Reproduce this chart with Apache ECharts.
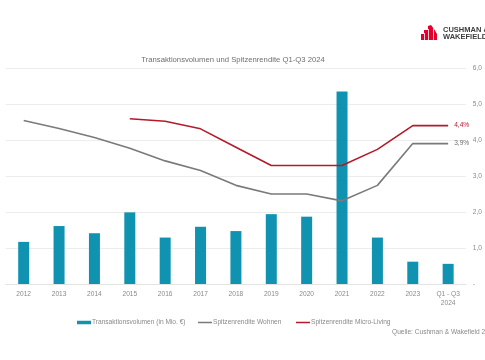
<!DOCTYPE html>
<html><head><meta charset="utf-8">
<script src="https://cdn.jsdelivr.net/npm/echarts@6/dist/echarts.min.js"></script>
<style>html,body{margin:0;padding:0;background:#fff}#c{width:485px;height:360px}</style>
</head><body><div id="c"></div>
<script>
const categories = ['2012','2013','2014','2015','2016','2017','2018','2019','2020','2021','2022','2023','Q1 - Q3\n2024'];
const volumen = [1170, 1610, 1410, 1990, 1290, 1590, 1470, 1940, 1870, 5350, 1290, 620, 560];
const renditeWohnen = [4.54, 4.32, 4.07, 3.77, 3.42, 3.15, 2.74, 2.50, 2.50, 2.31, 2.74, 3.90, 3.90];
const renditeMicro = [null, null, null, 4.59, 4.52, 4.31, 3.80, 3.29, 3.29, 3.29, 3.74, 4.40, 4.40];
const rightTicks = [0, 1, 2, 3, 4, 5, 6];

const FONT = "'Liberation Sans',sans-serif";
const grey = '#8a8a8a';
const teal = '#0f93b0';
const red = '#b51a2a';
const lineGrey = '#7a7a7a';
const fmtPct = v => v.toFixed(1).replace('.', ',') + '%';

const chart = echarts.init(document.getElementById('c'), null, {renderer:'canvas'});
chart.setOption({
  animation:false,
  textStyle:{fontFamily:FONT},
  title:{text:'Transaktionsvolumen und Spitzenrendite Q1-Q3 2024', left:228, top:51, textAlign:'center',
    textStyle:{fontSize:7.7, fontWeight:'normal', color:'#6f6f6f', fontFamily:FONT}},
  grid:{left:6, right:16, top:68, bottom:76, containLabel:false},
  xAxis:{type:'category', data:categories,
    axisLine:{show:true, lineStyle:{color:'#e3e3e3'}}, axisTick:{show:false},
    axisLabel:{color:grey, fontSize:6.6, margin:6, lineHeight:9, fontFamily:FONT}},
  yAxis:[
    {type:'value', min:0, max:6000, interval:1000, show:false, splitLine:{show:false}},
    {type:'value', position:'right', min:0, max:6, interval:1,
      axisLine:{show:false}, axisTick:{show:false},
      splitLine:{show:true, lineStyle:{color:'#ececec', width:1}},
      axisLabel:{color:grey, fontSize:6.6, margin:7, fontFamily:FONT,
        formatter:v => v === 0 ? '-' : v.toFixed(1).replace('.', ',')}}
  ],
  legend:[
    {data:[{name:'Transaktionsvolumen (in Mio. €)', icon:'rect'}], left:72, top:314, itemWidth:14, itemHeight:3.5,
      textStyle:{color:grey, fontSize:6.6, fontFamily:FONT, padding:[0,0,0,-4]}},
    {data:[{name:'Spitzenrendite Wohnen', icon:'rect'}], left:193, top:314, itemWidth:14, itemHeight:1.5,
      textStyle:{color:grey, fontSize:6.6, fontFamily:FONT, padding:[0,0,0,-4]}},
    {data:[{name:'Spitzenrendite Micro-Living', icon:'rect'}], left:291, top:314, itemWidth:14, itemHeight:1.5,
      textStyle:{color:grey, fontSize:6.6, fontFamily:FONT, padding:[0,0,0,-4]}}
  ],
  graphic:[
    {type:'text', left:392, top:329, style:{text:'Quelle: Cushman & Wakefield 2024', fill:grey, fontSize:6.6, fontFamily:FONT}},
    // logo: stepped building icon
    {type:'polygon', shape:{points:[[421,40],[421,34],[424,34],[424,30],[428,30],[428,26],[431,25],[434,29],[437,34],[437,40]]}, style:{fill:'#e4002b'}},
    {type:'line', shape:{x1:424.5,y1:33,x2:424.5,y2:40}, style:{stroke:'#fff', lineWidth:0.8}},
    {type:'line', shape:{x1:428.5,y1:29,x2:428.5,y2:40}, style:{stroke:'#fff', lineWidth:0.8}},
    {type:'line', shape:{x1:433.5,y1:28,x2:433.5,y2:40}, style:{stroke:'#fff', lineWidth:0.8}},
    {type:'text', left:443, top:26, style:{text:'CUSHMAN &', fill:'#3d3d3d', fontSize:7.5, fontWeight:'bold', fontFamily:FONT}},
    {type:'text', left:443, top:32.5, style:{text:'WAKEFIELD', fill:'#3d3d3d', fontSize:7.5, fontWeight:'bold', fontFamily:FONT}}
  ],
  series:[
    {name:'Transaktionsvolumen (in Mio. €)', type:'bar', yAxisIndex:0, data:volumen, barWidth:11,
      itemStyle:{color:teal}},
    {name:'Spitzenrendite Wohnen', type:'line', yAxisIndex:1, data:renditeWohnen, showSymbol:false, symbol:'none',
      lineStyle:{color:lineGrey, width:1.6}, itemStyle:{color:lineGrey},
      endLabel:{show:true, formatter:p => fmtPct(p.value), color:'#6f6f6f', fontSize:6.6, distance:6, fontFamily:FONT}},
    {name:'Spitzenrendite Micro-Living', type:'line', yAxisIndex:1, data:renditeMicro, showSymbol:false, symbol:'none',
      lineStyle:{color:red, width:1.6}, itemStyle:{color:red},
      endLabel:{show:true, formatter:p => fmtPct(p.value), color:red, fontSize:6.6, distance:6, fontFamily:FONT}}
  ]
});
</script></body></html>
